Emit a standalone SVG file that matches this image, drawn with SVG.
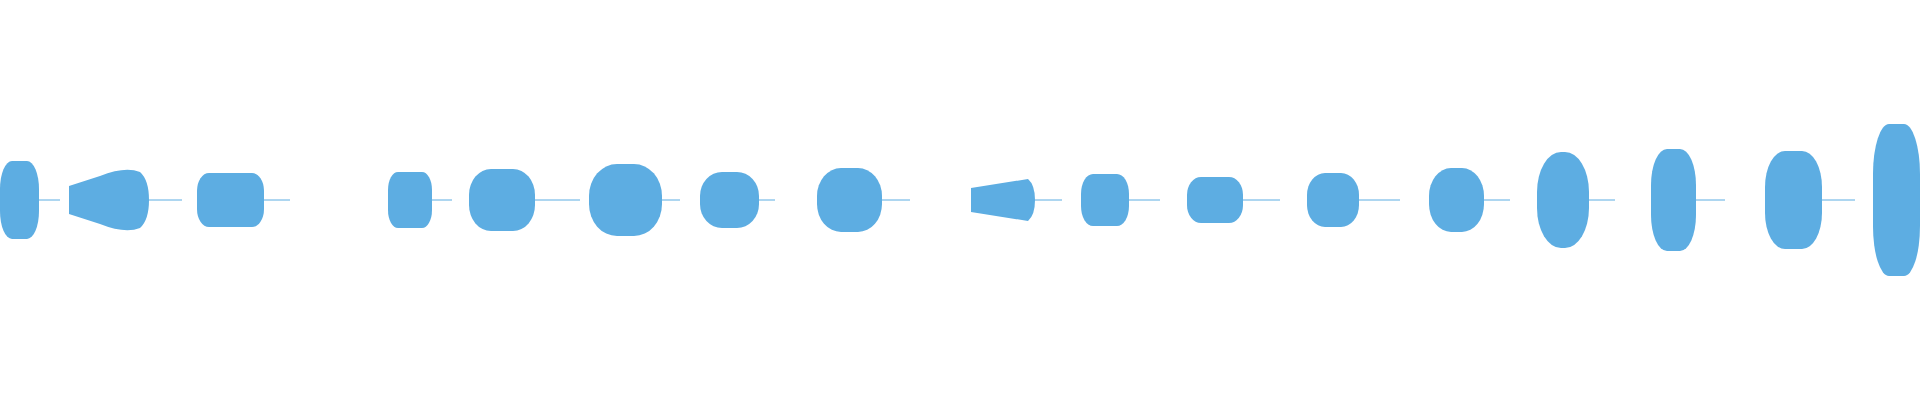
<svg xmlns="http://www.w3.org/2000/svg" width="1920" height="400" viewBox="0 0 1920 400">
<style>.b{fill:#5dade2}.t{stroke:#5dade2;stroke-width:1}</style>
<rect width="1920" height="400" fill="#fff"/>
<g id="wave">
<rect class="b" x="0" y="161" width="39" height="78" rx="12" ry="28"/>
<path class="b" d="M69,186 L100,176 Q125,166 140,172 Q149,180 149,200 Q149,220 140,228 Q125,234 100,224 L69,214 Z"/>
<rect class="b" x="197" y="173" width="67" height="54" rx="12" ry="18"/>
<rect class="b" x="388" y="172" width="44" height="56" rx="10" ry="18"/>
<rect class="b" x="469" y="169" width="66" height="62" rx="22" ry="26"/>
<rect class="b" x="589" y="164" width="73" height="72" rx="28" ry="32"/>
<rect class="b" x="700" y="172" width="59" height="56" rx="22" ry="24"/>
<rect class="b" x="817" y="168" width="65" height="64" rx="24" ry="28"/>
<path class="b" d="M971,188 L1028,179 Q1035,185 1035,200 Q1035,215 1028,221 L971,212 Z"/>
<rect class="b" x="1081" y="174" width="48" height="52" rx="12" ry="20"/>
<rect class="b" x="1187" y="177" width="56" height="46" rx="14" ry="18"/>
<rect class="b" x="1307" y="173" width="52" height="54" rx="18" ry="22"/>
<rect class="b" x="1429" y="168" width="55" height="64" rx="22" ry="28"/>
<rect class="b" x="1537" y="152" width="52" height="96" rx="24" ry="40"/>
<rect class="b" x="1651" y="149" width="45" height="102" rx="16" ry="36"/>
<rect class="b" x="1765" y="151" width="57" height="98" rx="20" ry="36"/>
<rect class="b" x="1873" y="124" width="47" height="152" rx="16" ry="50"/>
<g class="t">
<line x1="39" y1="200" x2="60" y2="200"/><line x1="149" y1="200" x2="182" y2="200"/>
<line x1="264" y1="200" x2="290" y2="200"/><line x1="432" y1="200" x2="452" y2="200"/>
<line x1="535" y1="200" x2="580" y2="200"/><line x1="662" y1="200" x2="680" y2="200"/>
<line x1="759" y1="200" x2="775" y2="200"/><line x1="882" y1="200" x2="910" y2="200"/>
<line x1="1035" y1="200" x2="1062" y2="200"/><line x1="1129" y1="200" x2="1160" y2="200"/>
<line x1="1243" y1="200" x2="1280" y2="200"/><line x1="1359" y1="200" x2="1400" y2="200"/>
<line x1="1484" y1="200" x2="1510" y2="200"/><line x1="1589" y1="200" x2="1615" y2="200"/>
<line x1="1696" y1="200" x2="1725" y2="200"/><line x1="1822" y1="200" x2="1855" y2="200"/>
</g>
</g>
</svg>
